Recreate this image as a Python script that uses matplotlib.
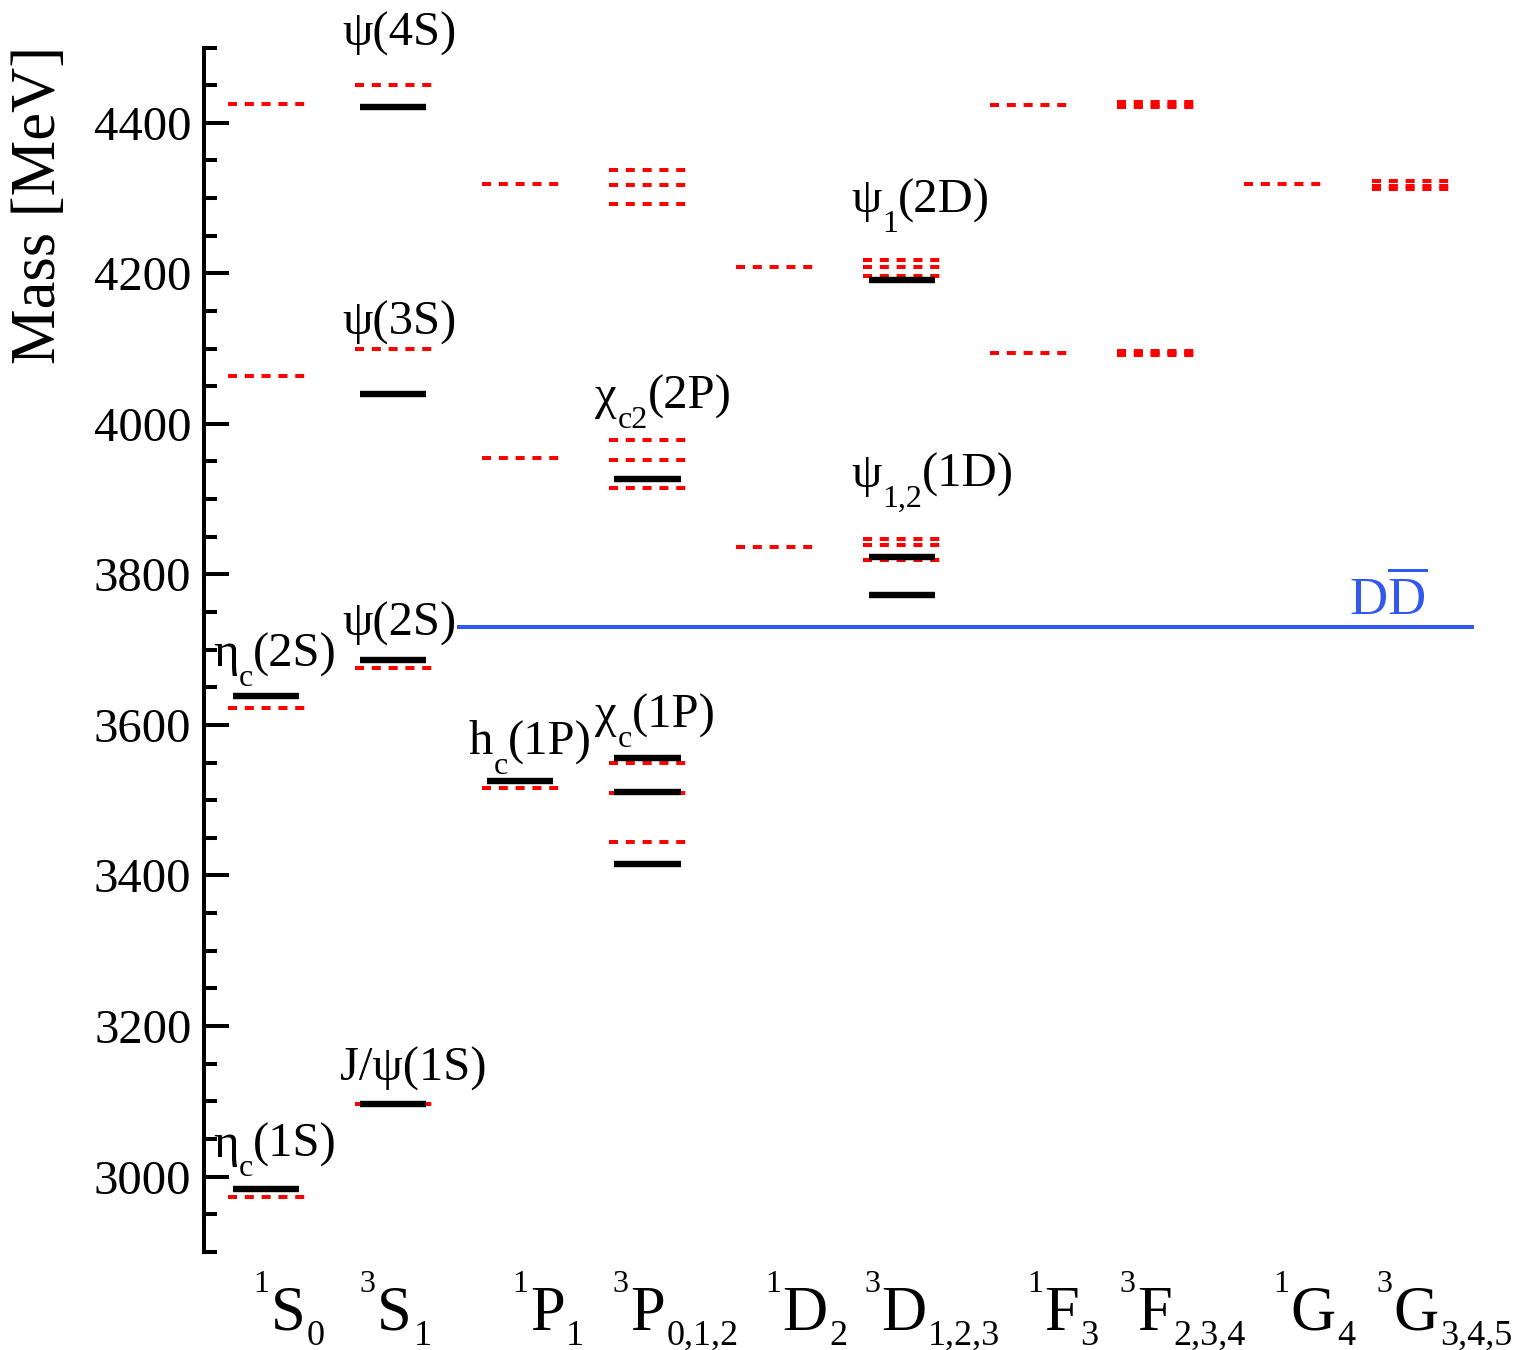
import numpy as np
import matplotlib.pyplot as plt

plt.rcParams['font.family'] = ['Liberation Serif', 'DejaVu Serif']
plt.rcParams['mathtext.fontset'] = 'custom'
plt.rcParams['mathtext.rm'] = 'Liberation Serif'
plt.rcParams['mathtext.it'] = 'Liberation Serif:italic'
plt.rcParams['lines.scale_dashes'] = False

# spectroscopic terms (one column each)
term_sup = ['1', '3', '1', '3', '1', '3', '1', '3', '1', '3']
term_letter = ['S', 'S', 'P', 'P', 'D', 'D', 'F', 'F', 'G', 'G']
term_sub = ['0', '1', '1', '0,1,2', '2', '1,2,3', '3', '2,3,4', '4', '3,4,5']

# experimental masses (MeV) and the column they belong to
exp_col = [0, 0, 1, 1, 1, 1, 2, 3, 3, 3, 3, 5, 5, 5]
exp_mass = [2984, 3638, 3097, 3686, 4039, 4421, 3525,
            3415, 3511, 3556, 3927, 3773, 3823, 4191]

# model masses (MeV) per column
model_1S0 = [2973, 3622, 4063, 4425]
model_3S1 = [3096, 3676, 4099, 4450]
model_1P1 = [3516, 3955, 4318]
model_3P = [3444, 3509, 3550, 3915, 3952, 3979, 4292, 4317, 4337]
model_1D2 = [3837, 4208]
model_3D = [3819, 3839, 3847, 4196, 4208, 4218]
model_1F3 = [4094, 4424]
model_3F = [4091, 4094, 4097, 4421, 4424, 4427]
model_1G4 = [4318]
model_3G = [4312, 4316, 4322]
model_mass = [model_1S0, model_3S1, model_1P1, model_3P, model_1D2,
              model_3D, model_1F3, model_3F, model_1G4, model_3G]

dd_threshold = 3730

# state labels: name, subscript, quantum numbers
state_name = ['ψ', 'ψ', 'ψ', 'J/ψ', 'η', 'η', 'h', 'χ', 'χ', 'ψ', 'ψ']
state_sub = ['', '', '', '', 'c', 'c', 'c', 'c', 'c2', '1', '1,2']
state_rest = ['(4S)', '(3S)', '(2S)', '(1S)', '(1S)', '(2S)', '(1P)', '(1P)',
              '(2P)', '(2D)', '(1D)']
state_x = [0.60, 0.60, 0.60, 0.58, -0.42, -0.42, 1.59, 2.59, 2.59, 4.60, 4.60]
state_y = [4502, 4119, 3718, 3128, 3026, 3678, 3561, 3597, 4020, 4281, 3916]

term_x = [0.17, 1.01, 2.21, 3.0, 4.24, 5.02, 6.26, 6.99, 8.24, 9.05]

red = '#ff0000'
blue = '#3358ee'

fig = plt.figure(figsize=(15.21, 13.5), dpi=100)
ax = fig.add_axes([204 / 1521, 1 - 1251.8 / 1350, 1296 / 1521, (1251.8 - 47.5) / 1350])

# model levels: red dashed
for i, masses in enumerate(model_mass):
    ax.hlines(masses, i - 0.303, i + 0.303, colors=red, linewidth=2.9,
              linestyles=[(0, (6.5, 5.6))], zorder=2)

# experimental levels: black solid
exp_col = np.array(exp_col)
ax.hlines(exp_mass, exp_col - 0.26, exp_col + 0.26, colors='black',
          linewidth=4.6, zorder=3)

# D Dbar threshold
ax.hlines(dd_threshold, 1.5, 9.5, colors=blue, linewidth=2.9, zorder=1)
ax.text(8.83, 3747, r'D$\overline{\mathrm{D}}$', color=blue, fontsize=38,
        ha='center', va='baseline')

# state names with lowered subscripts
for name, sub, rest, x, y in zip(state_name, state_sub, state_rest, state_x, state_y):
    if not sub:
        ax.text(x, y, name + rest, fontsize=35, ha='left', va='baseline',
                clip_on=False)
        continue
    t1 = ax.text(x, y, name, fontsize=35, ha='left', va='baseline', clip_on=False)
    t2 = ax.annotate(sub, xy=(1, y), xycoords=(t1, 'data'), xytext=(0.5, -14),
                     textcoords='offset points', ha='left', va='baseline',
                     fontsize=23, annotation_clip=False)
    ax.annotate(rest, xy=(1, y), xycoords=(t2, 'data'), xytext=(0, 0),
                textcoords='offset points', ha='left', va='baseline',
                fontsize=35, annotation_clip=False)

# spectroscopic term labels under the columns
for i in range(len(term_letter)):
    main = ax.annotate(term_letter[i], xy=(term_x[i], 0),
                       xycoords=('data', 'axes fraction'), xytext=(0, -56),
                       textcoords='offset points', ha='center', va='baseline',
                       fontsize=45, annotation_clip=False)
    ax.annotate(term_sup[i], xy=(0, 0), xycoords=(main, 'axes fraction'),
                xytext=(-1, -29), textcoords='offset points', ha='right',
                va='baseline', fontsize=23, annotation_clip=False)
    ax.annotate(term_sub[i], xy=(1, 0), xycoords=(main, 'axes fraction'),
                xytext=(1, -67), textcoords='offset points', ha='left',
                va='baseline', fontsize=26, annotation_clip=False)

ax.set_xlim(-0.49, 9.708)
ax.set_ylim(2900, 4500)
ax.set_xticks([])
ax.set_yticks(np.arange(3000, 4401, 200))
ax.set_yticks(np.arange(2900, 4501, 50), minor=True)
ax.tick_params(axis='y', which='major', direction='in', length=18, width=2.9,
               labelsize=35, pad=9)
ax.tick_params(axis='y', which='minor', direction='in', length=9, width=2.9)
for s in ['top', 'right', 'bottom']:
    ax.spines[s].set_visible(False)
ax.spines['left'].set_linewidth(2.9)

fig.text(40 / 1521, 1 - 205 / 1350, 'Mass [MeV]', rotation=90, ha='center',
         va='center', fontsize=45)

fig.savefig('out.png', dpi=100)
